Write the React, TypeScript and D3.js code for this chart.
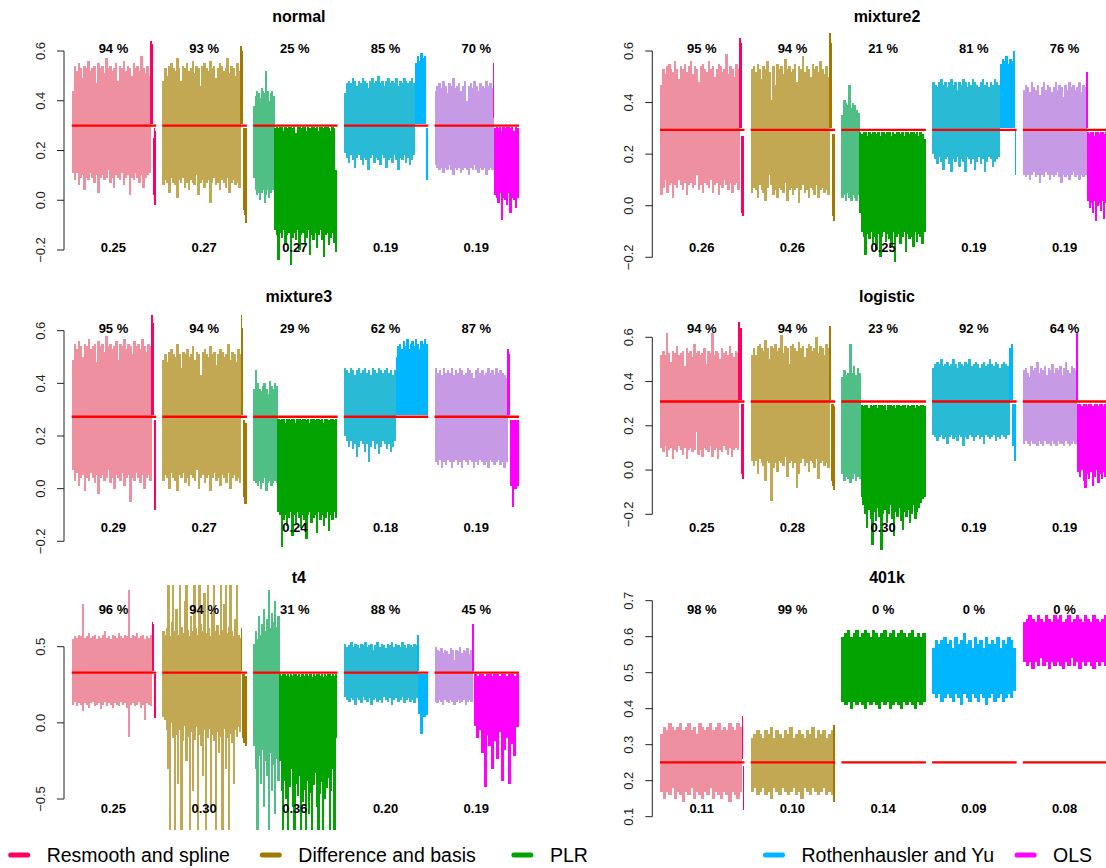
import React from "react";
import * as d3 from "d3";

// ---------- data ----------
const methods = ["Resmooth and spline", "Difference and basis", "PLR", "Rothenhausler and Yu", "OLS"];
const coverColors = ["#EE909F", "#C2A852", "#50BF86", "#29BAD6", "#C69AE4"];
const missColors = ["#FF0062", "#A27800", "#00A300", "#00B7FF", "#FF00FF"];

const panelNames = ["normal", "mixture2", "mixture3", "logistic", "t4", "401k"];
const truthValues = [0.3, 0.294, 0.273, 0.31, 0.33, 0.251];
const coverageLabels = [
  [94, 93, 25, 85, 70],
  [95, 94, 21, 81, 76],
  [95, 94, 29, 62, 87],
  [94, 94, 23, 92, 64],
  [96, 94, 31, 88, 45],
  [98, 99, 0, 0, 0],
];
const widthLabels = [
  ["0.25", "0.27", "0.27", "0.19", "0.19"],
  ["0.26", "0.26", "0.25", "0.19", "0.19"],
  ["0.29", "0.27", "0.24", "0.18", "0.19"],
  ["0.25", "0.28", "0.30", "0.19", "0.19"],
  ["0.25", "0.30", "0.36", "0.20", "0.19"],
  ["0.11", "0.10", "0.14", "0.09", "0.08"],
];
const yTickValues = [
  [-0.2, 0, 0.2, 0.4, 0.6],
  [-0.2, 0, 0.2, 0.4, 0.6],
  [-0.2, 0, 0.2, 0.4, 0.6],
  [-0.2, 0, 0.2, 0.4, 0.6],
  [-0.5, 0, 0.5],
  [0.1, 0.2, 0.3, 0.4, 0.5, 0.6, 0.7],
];

// shares (%) of each method's intervals: [covering, miss above, miss below]
// envelopes per method: [covering, above, below] -> upper / lower limits
const normalShares = [[94, 3, 3], [93, 3, 4], [25, 0, 75], [85, 13, 2], [70, 1, 29]];
const normalHi = [
  [[0.44,0.54,0.52,0.55,0.53,0.49,0.54,0.53,0.56,0.52,0.53,0.54,0.47,0.55,0.53,0.54,0.51,0.57,0.53,0.54,0.52,0.53,0.55,0.48,0.54,0.53,0.56,0.52,0.54,0.53,0.50,0.55,0.53,0.54,0.52,0.58,0.53,0.51,0.54,0.50],[0.64,0.62,0.63],[0.25,0.29,0.28]],
  [[0.48,0.53,0.50,0.54,0.55,0.53,0.52,0.57,0.53,0.48,0.54,0.53,0.55,0.52,0.53,0.56,0.51,0.54,0.53,0.46,0.54,0.55,0.53,0.52,0.56,0.53,0.54,0.49,0.53,0.55,0.54,0.52,0.53,0.57,0.51,0.54,0.53,0.50,0.55,0.52],[0.62,0.60],[0.29,0.29,0.28,0.29]],
  [[0.38,0.42,0.44,0.43,0.41,0.45,0.44,0.43,0.52,0.44,0.40,0.43,0.44,0.42],[],[0.29,0.295,0.29,0.295,0.295,0.28,0.295,0.29,0.295,0.295,0.29,0.295,0.27,0.295,0.295,0.29,0.295,0.295,0.28,0.295,0.29,0.295,0.295,0.29,0.295,0.28,0.295,0.295,0.29,0.295,0.295,0.29,0.28,0.295,0.29,0.12]],
  [[0.43,0.47,0.48,0.47,0.49,0.48,0.46,0.48,0.47,0.49,0.48,0.47,0.45,0.48,0.49,0.47,0.48,0.50,0.47,0.48,0.46,0.48,0.49,0.47,0.48,0.47,0.49,0.46,0.48,0.47,0.49,0.48,0.47,0.48,0.49,0.47],[0.55,0.58,0.56,0.59,0.57,0.58],[0.29]],
  [[0.44,0.46,0.47,0.45,0.48,0.46,0.43,0.47,0.46,0.49,0.45,0.46,0.47,0.44,0.46,0.48,0.40,0.46,0.47,0.45,0.48,0.46,0.44,0.47,0.46,0.45,0.48,0.46,0.47,0.45],[0.55],[0.29,0.295,0.29,0.295,0.28,0.295,0.29,0.295,0.295,0.29,0.295,0.28,0.295,0.29]],
];
const normalLo = [
  [[0.11,0.08,0.11,0.06,0.09,0.10,0.04,0.09,0.08,0.11,0.09,0.07,0.10,0.03,0.09,0.10,0.08,0.09,0.12,0.07,0.09,0.05,0.10,0.09,0.08,0.11,0.06,0.09,0.10,0.02,0.09,0.08,0.11,0.09,0.07,0.10,0.05,0.09,0.10,0.11],[0.305,0.305,0.305],[0.02,0.00,-0.02]],
  [[0.06,0.08,0.07,0.03,0.09,0.07,0.06,0.01,0.08,0.07,0.09,0.05,0.07,0.04,0.08,0.07,0.06,0.10,0.02,0.07,0.08,0.05,0.07,0.08,-0.01,0.07,0.09,0.06,0.07,0.04,0.08,0.07,0.05,0.09,0.03,0.07,0.08,0.06,0.07,0.05],[0.305,0.305],[0.0,-0.04,-0.06,-0.09]],
  [[0.09,0.04,0.02,0.03,0.0,0.03,0.04,-0.01,0.02,0.04,0.01,0.03,0.05,0.04],[],[-0.12,-0.14,-0.24,-0.13,-0.15,-0.12,-0.18,-0.14,-0.13,-0.26,-0.15,-0.13,-0.16,-0.12,-0.20,-0.14,-0.13,-0.17,-0.15,-0.12,-0.22,-0.14,-0.16,-0.13,-0.19,-0.14,-0.12,-0.16,-0.23,-0.14,-0.13,-0.18,-0.15,-0.13,-0.17,-0.21]],
  [[0.19,0.17,0.15,0.18,0.16,0.13,0.17,0.18,0.16,0.14,0.17,0.16,0.12,0.17,0.18,0.15,0.17,0.16,0.14,0.18,0.17,0.13,0.16,0.17,0.15,0.18,0.16,0.12,0.17,0.16,0.18,0.15,0.17,0.14,0.16,0.18],[0.305,0.305,0.305,0.305,0.305,0.305],[0.08]],
  [[0.14,0.13,0.12,0.13,0.11,0.13,0.12,0.14,0.12,0.10,0.13,0.12,0.13,0.11,0.12,0.13,0.12,0.10,0.13,0.12,0.14,0.12,0.11,0.13,0.12,0.13,0.10,0.12,0.13,0.12],[0.33],[0.02,0.01,-0.01,0.03,-0.08,0.01,0.0,-0.02,0.03,-0.05,0.01,0.0,-0.03,0.01]],
];

const mixture2Shares = [[95, 2, 3], [94, 3, 3], [21, 0, 79], [81, 18, 1], [76, 1, 23]];
const mixture2Hi = [
  [[0.47,0.53,0.51,0.54,0.55,0.53,0.52,0.56,0.53,0.49,0.54,0.53,0.55,0.52,0.54,0.56,0.51,0.54,0.53,0.48,0.54,0.55,0.53,0.52,0.56,0.53,0.54,0.50,0.53,0.55,0.54,0.52,0.53,0.59,0.51,0.54,0.53,0.50,0.55,0.53],[0.65,0.63],[0.27,0.27]],
  [[0.53,0.54,0.52,0.55,0.53,0.49,0.54,0.53,0.56,0.52,0.41,0.54,0.47,0.55,0.53,0.54,0.51,0.57,0.53,0.54,0.52,0.53,0.55,0.48,0.54,0.53,0.58,0.52,0.54,0.53,0.50,0.55,0.53,0.54,0.52,0.56,0.53,0.51,0.54,0.50],[0.67,0.63],[0.28,0.28]],
  [[0.35,0.41,0.40,0.39,0.47,0.38,0.40,0.39,0.37,0.36],[],[0.285,0.28,0.285,0.285,0.27,0.285,0.28,0.285,0.285,0.28,0.285,0.27,0.285,0.285,0.28,0.285,0.285,0.27,0.285,0.28,0.285,0.285,0.28,0.285,0.27,0.285,0.285,0.28,0.285,0.285,0.28,0.285,0.27,0.285,0.28,0.26]],
  [[0.48,0.47,0.46,0.48,0.49,0.47,0.48,0.46,0.48,0.49,0.47,0.48,0.45,0.48,0.47,0.49,0.48,0.46,0.48,0.47,0.49,0.48,0.47,0.46,0.48,0.49,0.47,0.48,0.46,0.48,0.47,0.49,0.48,0.47],[0.55,0.57,0.56,0.58,0.55,0.57,0.56,0.60],[0.29]],
  [[0.45,0.47,0.46,0.44,0.48,0.46,0.45,0.47,0.43,0.46,0.48,0.45,0.47,0.46,0.44,0.46,0.48,0.45,0.47,0.46,0.42,0.47,0.45,0.48,0.46,0.47,0.45,0.46,0.48,0.44,0.47,0.46],[0.52],[0.285,0.28,0.285,0.285,0.27,0.285,0.285,0.28,0.285,0.285,0.28,0.285]],
];
const mixture2Lo = [
  [[0.04,0.07,0.10,0.05,0.08,0.09,0.03,0.08,0.07,0.10,0.08,0.06,0.09,0.04,0.08,0.09,0.07,0.08,0.12,0.06,0.08,0.05,0.09,0.08,0.07,0.10,0.05,0.08,0.09,0.04,0.08,0.07,0.10,0.08,0.06,0.09,0.05,0.08,0.09,0.06],[0.30,0.30],[-0.03,-0.04]],
  [[0.05,0.07,0.06,0.03,0.08,0.06,0.05,0.02,0.07,0.12,0.08,0.04,0.06,0.03,0.07,0.06,0.05,0.09,0.02,0.06,0.07,0.04,0.06,0.07,0.01,0.06,0.08,0.05,0.06,0.03,0.07,0.06,0.04,0.08,0.03,0.06,0.07,0.05,0.06,0.04],[0.30,0.30],[-0.04,-0.06]],
  [[0.03,0.04,0.02,0.05,0.03,0.02,0.04,0.03,0.02,0.04],[],[-0.03,-0.10,-0.12,-0.19,-0.11,-0.13,-0.10,-0.15,-0.12,-0.17,-0.11,-0.20,-0.12,-0.10,-0.14,-0.11,-0.13,-0.16,-0.10,-0.22,-0.12,-0.11,-0.15,-0.12,-0.10,-0.18,-0.11,-0.13,-0.12,-0.16,-0.10,-0.14,-0.11,-0.12,-0.15,-0.10]],
  [[0.20,0.18,0.16,0.19,0.17,0.14,0.18,0.19,0.16,0.13,0.18,0.17,0.19,0.15,0.18,0.17,0.13,0.19,0.18,0.16,0.18,0.14,0.17,0.19,0.16,0.18,0.13,0.17,0.19,0.18,0.15,0.17,0.18,0.19],[0.30,0.30,0.30,0.30,0.30,0.30,0.30,0.30],[0.12]],
  [[0.12,0.11,0.12,0.10,0.12,0.13,0.11,0.12,0.09,0.12,0.11,0.13,0.12,0.10,0.12,0.11,0.12,0.13,0.11,0.09,0.12,0.11,0.12,0.10,0.12,0.13,0.11,0.12,0.10,0.12,0.11,0.12],[0.30],[0.02,-0.01,0.01,-0.03,0.02,-0.06,0.0,0.01,-0.02,0.02,-0.05,0.01]],
];

const mixture3Shares = [[95, 3, 2], [94, 2, 4], [29, 0, 71], [62, 38, 0], [87, 3, 10]];
const mixture3Hi = [
  [[0.49,0.55,0.53,0.56,0.54,0.50,0.55,0.54,0.57,0.53,0.54,0.55,0.48,0.56,0.54,0.55,0.52,0.58,0.54,0.55,0.53,0.54,0.56,0.49,0.55,0.54,0.57,0.53,0.55,0.54,0.51,0.56,0.54,0.55,0.53,0.57,0.54,0.52,0.55,0.54],[0.66,0.63],[0.26,0.26]],
  [[0.49,0.51,0.48,0.52,0.53,0.51,0.50,0.55,0.51,0.46,0.52,0.51,0.53,0.50,0.51,0.54,0.49,0.52,0.51,0.43,0.52,0.53,0.51,0.50,0.54,0.51,0.52,0.47,0.51,0.53,0.52,0.50,0.51,0.55,0.49,0.52,0.51,0.48,0.53,0.51],[0.66,0.61],[0.26,0.26,0.25]],
  [[0.38,0.45,0.40,0.38,0.37,0.39,0.40,0.38,0.36,0.41,0.39,0.38,0.40,0.39],[],[0.265,0.26,0.265,0.265,0.25,0.265,0.265,0.26,0.265,0.265,0.25,0.265,0.265,0.26,0.265,0.265,0.26,0.265,0.25,0.265,0.265,0.26,0.265,0.265,0.26,0.265,0.25,0.265,0.265,0.26,0.265,0.265,0.26,0.265]],
  [[0.46,0.45,0.44,0.46,0.45,0.43,0.45,0.46,0.44,0.45,0.46,0.44,0.45,0.43,0.46,0.45,0.44,0.46,0.45,0.44,0.45,0.46,0.44,0.45,0.43,0.45],[0.50,0.54,0.55,0.53,0.56,0.54,0.57,0.53,0.55,0.56,0.54,0.57,0.55,0.53,0.56,0.55,0.57,0.55],[]],
  [[0.46,0.44,0.45,0.43,0.46,0.44,0.45,0.44,0.46,0.43,0.45,0.44,0.46,0.45,0.43,0.44,0.46,0.45,0.44,0.42,0.45,0.46,0.44,0.45,0.43,0.44,0.46,0.44,0.45,0.43,0.46,0.44,0.45,0.44,0.43,0.42],[0.53,0.51],[0.26,0.26,0.26,0.26]],
];
const mixture3Lo = [
  [[0.07,0.03,0.06,0.01,0.04,0.05,-0.01,0.04,0.03,0.06,0.04,0.02,0.05,-0.02,0.04,0.05,0.03,0.04,0.07,0.02,0.04,0.00,0.05,0.04,0.03,0.06,0.01,0.04,0.05,-0.05,0.04,0.03,0.06,0.04,0.02,0.05,0.00,0.04,0.05,0.03],[0.278,0.278],[-0.05,-0.08]],
  [[0.03,0.05,0.04,0.00,0.06,0.04,0.03,-0.01,0.05,0.04,0.06,0.02,0.04,0.01,0.05,0.04,0.03,0.07,0.00,0.04,0.05,0.02,0.04,0.05,-0.01,0.04,0.06,0.03,0.04,0.01,0.05,0.04,0.02,0.06,0.00,0.04,0.05,0.03,0.04,0.02],[0.278,0.278],[-0.03,-0.06,-0.06]],
  [[0.03,0.02,0.01,0.03,0.00,0.02,0.04,-0.01,0.02,0.03,0.01,0.02,0.03,0.02],[],[-0.09,-0.10,-0.22,-0.12,-0.10,-0.14,-0.11,-0.09,-0.18,-0.10,-0.13,-0.09,-0.11,-0.15,-0.10,-0.12,-0.19,-0.10,-0.09,-0.13,-0.11,-0.10,-0.17,-0.09,-0.12,-0.10,-0.14,-0.11,-0.09,-0.16,-0.10,-0.12,-0.09,-0.11]],
  [[0.20,0.18,0.16,0.18,0.15,0.17,0.12,0.16,0.18,0.17,0.14,0.17,0.10,0.16,0.18,0.15,0.17,0.13,0.16,0.18,0.17,0.15,0.17,0.14,0.16,0.18],[0.278,0.278,0.278,0.278,0.278,0.278,0.278,0.278,0.278,0.278,0.278,0.278,0.278,0.278,0.278,0.278,0.278,0.278],[]],
  [[0.10,0.09,0.11,0.08,0.10,0.09,0.11,0.10,0.08,0.10,0.11,0.09,0.10,0.08,0.11,0.10,0.09,0.11,0.10,0.08,0.10,0.09,0.11,0.10,0.09,0.10,0.08,0.11,0.10,0.09,0.10,0.11,0.09,0.10,0.08,0.10],[0.278,0.278],[0.01,-0.07,0.0,0.01]],
];

const logisticShares = [[94, 3, 3], [94, 2, 4], [23, 0, 77], [92, 4, 4], [64, 1, 35]];
const logisticHi = [
  [[0.52,0.54,0.52,0.62,0.53,0.49,0.54,0.53,0.56,0.52,0.53,0.54,0.47,0.55,0.53,0.54,0.51,0.57,0.53,0.54,0.52,0.53,0.55,0.48,0.54,0.53,0.62,0.52,0.54,0.53,0.50,0.55,0.53,0.54,0.52,0.56,0.53,0.51,0.54,0.53],[0.67,0.64],[0.30,0.30]],
  [[0.52,0.55,0.52,0.56,0.57,0.55,0.54,0.59,0.55,0.50,0.56,0.55,0.57,0.54,0.55,0.61,0.53,0.56,0.55,0.48,0.56,0.57,0.55,0.54,0.58,0.55,0.56,0.51,0.55,0.57,0.56,0.54,0.55,0.60,0.53,0.56,0.55,0.52,0.57,0.55],[0.65,0.62],[0.30,0.30,0.29]],
  [[0.42,0.45,0.43,0.44,0.57,0.44,0.47,0.43,0.46,0.44],[],[0.295,0.29,0.295,0.295,0.28,0.295,0.29,0.295,0.295,0.28,0.295,0.295,0.29,0.295,0.27,0.295,0.295,0.29,0.295,0.28,0.295,0.295,0.29,0.295,0.295,0.28,0.295,0.29,0.295,0.295,0.28,0.295,0.29,0.295,0.295,0.29]],
  [[0.46,0.48,0.49,0.48,0.50,0.47,0.48,0.49,0.47,0.48,0.50,0.48,0.46,0.49,0.48,0.47,0.49,0.48,0.50,0.47,0.48,0.49,0.48,0.46,0.48,0.49,0.47,0.48,0.50,0.48,0.47,0.49,0.48,0.46,0.48,0.49,0.48,0.47],[0.55,0.57],[0.30,0.30]],
  [[0.45,0.46,0.44,0.42,0.47,0.45,0.46,0.49,0.44,0.46,0.45,0.47,0.43,0.46,0.45,0.48,0.44,0.46,0.45,0.47,0.43,0.46,0.49,0.45,0.44,0.47,0.46,0.45],[0.62],[0.30,0.30,0.29,0.30,0.30,0.29,0.30,0.30,0.29,0.30,0.30,0.29,0.30,0.30,0.29,0.30]],
];
const logisticLo = [
  [[0.10,0.08,0.11,0.06,0.09,0.10,0.05,0.09,0.08,0.11,0.09,0.07,0.10,0.05,0.09,0.10,0.08,0.09,0.17,0.07,0.09,0.06,0.10,0.09,0.08,0.11,0.06,0.09,0.10,0.05,0.09,0.08,0.11,0.09,0.07,0.10,0.06,0.09,0.10,0.09],[0.315,0.315],[-0.02,-0.04]],
  [[0.04,0.02,0.04,-0.02,0.05,0.03,0.02,-0.05,0.04,0.03,-0.14,0.01,0.03,-0.01,0.04,0.03,0.02,0.06,-0.03,0.03,0.04,0.01,0.03,-0.08,-0.02,0.03,0.05,0.02,0.03,-0.01,0.04,0.03,0.01,0.05,-0.04,0.03,0.04,0.02,0.03,0.01],[0.315,0.315],[-0.05,-0.07,-0.09]],
  [[-0.02,-0.05,-0.03,-0.04,-0.06,-0.04,-0.02,-0.05,-0.03,-0.04],[],[-0.12,-0.16,-0.20,-0.26,-0.18,-0.22,-0.34,-0.19,-0.23,-0.17,-0.21,-0.36,-0.20,-0.18,-0.24,-0.20,-0.16,-0.22,-0.30,-0.19,-0.21,-0.17,-0.23,-0.27,-0.19,-0.21,-0.18,-0.24,-0.20,-0.16,-0.22,-0.19,-0.17,-0.15,-0.13,-0.12]],
  [[0.16,0.15,0.13,0.15,0.16,0.14,0.15,0.12,0.15,0.16,0.14,0.15,0.13,0.16,0.15,0.11,0.15,0.14,0.16,0.15,0.13,0.15,0.16,0.14,0.15,0.12,0.16,0.15,0.14,0.15,0.16,0.13,0.15,0.14,0.16,0.15,0.14,0.16],[0.315,0.315],[0.11,0.04]],
  [[0.12,0.13,0.12,0.11,0.13,0.12,0.12,0.11,0.13,0.12,0.11,0.13,0.12,0.12,0.11,0.13,0.12,0.11,0.13,0.12,0.12,0.11,0.13,0.12,0.11,0.12,0.13,0.12],[0.315],[-0.01,-0.03,0.0,-0.05,-0.08,-0.02,-0.04,-0.01,-0.07,-0.03,0.0,-0.06,-0.02,-0.04,-0.01,-0.03]],
];

const t4Shares = [[96, 2, 2], [94, 1, 5], [31, 0, 69], [88, 1, 11], [45, 2, 53]];
const t4Hi = [
  [[0.55,0.57,0.56,0.58,0.57,0.78,0.56,0.57,0.59,0.56,0.57,0.58,0.55,0.57,0.56,0.58,0.60,0.56,0.57,0.55,0.58,0.57,0.56,0.59,0.57,0.56,0.58,0.57,0.87,0.56,0.58,0.57,0.59,0.56,0.57,0.58,0.55,0.57,0.56,0.58],[0.66,0.65],[0.32,0.32]],
  [[0.60,0.58,0.62,1.0,0.57,0.66,1.0,0.60,0.75,0.58,1.0,0.63,0.59,0.80,1.0,0.61,0.57,0.70,0.60,1.0,0.62,0.58,1.0,0.65,0.60,0.85,0.59,1.0,0.62,0.57,0.72,1.0,0.60,0.64,0.58,1.0,0.61,0.78,1.0,0.59,0.63,1.0,0.60,0.57,0.68,1.0,0.58,0.56],[0.62],[0.32,0.32,0.31]],
  [[0.52,0.60,0.55,0.70,0.58,0.65,0.75,0.60,0.68,0.87,0.62,0.72,0.66,0.80,0.63,0.70],[],[0.32,0.31,0.32,0.32,0.31,0.32,0.30,0.32,0.31,0.32,0.32,0.31,0.32,0.30,0.32,0.31,0.32,0.32,0.31,0.32,0.30,0.32,0.31,0.32,0.32,0.31,0.32,0.30,0.32,0.31,0.32,0.32,0.31,0.32,0.31,0.32]],
  [[0.52,0.50,0.51,0.53,0.50,0.52,0.51,0.49,0.52,0.51,0.53,0.50,0.51,0.52,0.48,0.51,0.53,0.50,0.52,0.51,0.49,0.52,0.51,0.53,0.50,0.52,0.51,0.50,0.53,0.51,0.49,0.52,0.51,0.50,0.52,0.51],[0.58],[0.32,0.32,0.32,0.32]],
  [[0.50,0.48,0.47,0.49,0.46,0.48,0.47,0.45,0.49,0.48,0.41,0.48,0.47,0.50,0.46,0.48,0.47,0.49,0.45,0.48],[0.65],[0.32,0.31,0.32,0.32,0.31,0.32,0.32,0.31,0.32,0.32,0.31,0.32,0.32,0.31,0.32,0.32,0.31,0.32]],
];
const t4Lo = [
  [[0.12,0.14,0.11,0.13,0.12,0.08,0.13,0.12,0.10,0.13,0.14,0.11,0.12,0.13,0.09,0.12,0.14,0.11,0.13,0.12,0.10,0.13,0.12,0.11,0.14,0.12,0.13,0.10,-0.09,0.12,0.13,0.11,0.12,0.14,0.10,0.12,0.02,0.13,0.12,0.11],[0.34,0.34],[0.05,0.03]],
  [[0.04,0.02,-0.05,-0.30,-0.8,0.00,-0.10,-0.8,-0.08,-0.40,-0.05,-0.8,-0.12,-0.02,-0.25,-0.09,-0.8,-0.06,-0.45,-0.11,-0.03,-0.8,-0.08,-0.15,-0.35,-0.05,-0.8,-0.10,-0.04,-0.55,-0.08,-0.12,-0.8,-0.06,-0.20,-0.09,-0.8,-0.04,-0.30,-0.10,-0.8,-0.07,-0.13,-0.40,-0.05,-0.09,-0.03,-0.06],[0.34],[-0.10,-0.13,-0.15]],
  [[-0.15,-0.30,-0.8,-0.22,-0.40,-0.18,-0.55,-0.25,-0.35,-0.8,-0.20,-0.45,-0.28,-0.60,-0.24,-0.38],[],[-0.25,-0.45,-0.8,-0.38,-0.50,-0.8,-0.42,-0.30,-0.55,-0.8,-0.40,-0.48,-0.35,-0.8,-0.52,-0.44,-0.8,-0.38,-0.60,-0.46,-0.8,-0.41,-0.33,-0.55,-0.8,-0.47,-0.39,-0.8,-0.50,-0.43,-0.36,-0.8,-0.45,-0.30,-0.8,-0.10]],
  [[0.17,0.15,0.14,0.16,0.15,0.12,0.16,0.15,0.13,0.17,0.15,0.14,0.16,0.12,0.15,0.16,0.14,0.15,0.13,0.17,0.15,0.14,0.16,0.12,0.15,0.16,0.14,0.15,0.17,0.13,0.15,0.16,0.14,0.15,0.13,0.16],[0.34],[0.06,-0.07,0.04,0.05]],
  [[0.14,0.13,0.15,0.14,0.12,0.15,0.14,0.13,0.15,0.14,0.12,0.14,0.15,0.13,0.14,0.15,0.12,0.14,0.15,0.14],[0.34],[-0.02,-0.10,-0.05,-0.20,-0.42,-0.08,-0.15,-0.30,-0.12,-0.24,-0.06,-0.38,-0.18,-0.10,-0.40,-0.14,-0.22,-0.03]],
];

const k401Shares = [[98, 1, 1], [99, 0, 1], [0, 100, 0], [0, 100, 0], [0, 100, 0]];
const k401Hi = [
  [[0.33,0.35,0.34,0.36,0.35,0.34,0.35,0.36,0.34,0.35,0.36,0.34,0.35,0.33,0.36,0.35,0.34,0.35,0.36,0.34,0.35,0.36,0.34,0.35,0.34,0.36,0.35,0.34,0.36,0.35],[0.38],[0.24]],
  [[0.32,0.33,0.34,0.33,0.32,0.34,0.33,0.35,0.32,0.34,0.33,0.32,0.34,0.33,0.35,0.32,0.33,0.34,0.33,0.32,0.34,0.33,0.35,0.32,0.34,0.33,0.34,0.32,0.33,0.34],[],[0.355]],
  [[],[0.60,0.61,0.62,0.60,0.61,0.62,0.60,0.61,0.62,0.61,0.60,0.62,0.61,0.60,0.61,0.62,0.60,0.61,0.62,0.60,0.61,0.62,0.61,0.60,0.61,0.62,0.60,0.61,0.60,0.61],[]],
  [[],[0.57,0.59,0.58,0.59,0.60,0.58,0.59,0.57,0.60,0.58,0.59,0.61,0.58,0.59,0.57,0.60,0.58,0.59,0.57,0.60,0.58,0.59,0.58,0.60,0.57,0.59,0.58,0.60,0.59,0.57],[]],
  [[],[0.64,0.65,0.66,0.65,0.64,0.66,0.65,0.64,0.66,0.65,0.64,0.66,0.65,0.66,0.64,0.65,0.66,0.64,0.65,0.66,0.65,0.64,0.66,0.65,0.64,0.66,0.65,0.64,0.65,0.66],[]],
];
const k401Lo = [
  [[0.17,0.15,0.17,0.16,0.18,0.15,0.17,0.16,0.14,0.17,0.16,0.18,0.15,0.17,0.16,0.15,0.17,0.16,0.18,0.15,0.17,0.16,0.15,0.17,0.16,0.14,0.17,0.16,0.15,0.17],[0.26],[0.12]],
  [[0.17,0.18,0.16,0.17,0.18,0.16,0.17,0.15,0.18,0.17,0.16,0.18,0.17,0.16,0.17,0.18,0.16,0.17,0.15,0.18,0.17,0.16,0.18,0.17,0.16,0.17,0.18,0.16,0.17,0.16],[],[0.14]],
  [[],[0.42,0.41,0.42,0.40,0.42,0.41,0.42,0.41,0.40,0.42,0.41,0.42,0.41,0.40,0.42,0.41,0.42,0.40,0.41,0.42,0.41,0.40,0.42,0.41,0.42,0.41,0.40,0.42,0.41,0.42],[]],
  [[],[0.44,0.43,0.44,0.42,0.43,0.44,0.43,0.42,0.44,0.43,0.41,0.44,0.43,0.42,0.44,0.43,0.42,0.44,0.43,0.41,0.43,0.44,0.42,0.43,0.44,0.42,0.43,0.44,0.43,0.45],[]],
  [[],[0.53,0.52,0.53,0.51,0.53,0.52,0.54,0.52,0.53,0.51,0.53,0.52,0.53,0.52,0.51,0.53,0.52,0.54,0.52,0.53,0.51,0.53,0.52,0.53,0.52,0.51,0.53,0.52,0.53,0.52],[]],
];

const panelShares = [normalShares, mixture2Shares, mixture3Shares, logisticShares, t4Shares, k401Shares];
const panelHi = [normalHi, mixture2Hi, mixture3Hi, logisticHi, t4Hi, k401Hi];
const panelLo = [normalLo, mixture2Lo, mixture3Lo, logisticLo, t4Lo, k401Lo];

// ---------- layout ----------
const W = 1106;
const H = 868;
const colX0 = [71.7, 660];
const colAxisX = [64, 652.3];
const colTitleX = [298.8, 887];
const rowOffset = [0, 280, 561];
const rowClip = [[28, 279], [305, 561], [585, 830]];
const panelYPix = [[250, 51], [257.3, 51], [541.3, 330.7], [514.3, 337.3], [799, 646.7], [816.7, 600.7]];
const groupStep = 90.7;
const groupWidth = 83.5;
const FONT = "'Liberation Sans', Arial, Helvetica, sans-serif";

function Panel({ p }: { p: number }) {
  const col = p % 2;
  const row = Math.floor(p / 2);
  const ticks = yTickValues[p];
  const y = d3.scaleLinear().domain([ticks[0], ticks[ticks.length - 1]]).range(panelYPix[p]);
  const x = d3
    .scaleBand<number>()
    .domain([0, 1, 2, 3, 4])
    .range([colX0[col], colX0[col] + 4 * groupStep + groupWidth])
    .paddingInner((groupStep - groupWidth) / groupStep)
    .paddingOuter(0);
  const bw = x.bandwidth();
  const off = rowOffset[row];
  const axisX = colAxisX[col];
  const fmt = d3.format(".1f");
  const clipId = `clip${p}`;
  const [c0, c1] = rowClip[row];

  const rects: React.ReactNode[] = [];
  for (let g = 0; g < 5; g++) {
    const bx = x(g) as number;
    let cum = 0;
    for (let s = 0; s < 3; s++) {
      const share = panelShares[p][g][s] / 100;
      const hi = panelHi[p][g][s];
      const lo = panelLo[p][g][s];
      const n = Math.min(hi.length, lo.length);
      const sx = d3.scaleLinear().domain([0, n]).range([bx + bw * cum, bx + bw * (cum + share)]);
      const color = s === 0 ? coverColors[g] : missColors[g];
      for (let i = 0; i < n; i++) {
        const yt = y(Math.max(hi[i], lo[i]));
        const yb = y(Math.min(hi[i], lo[i]));
        const x1 = sx(i);
        const x2 = sx(i + 1);
        rects.push(
          <rect
            key={`${g}-${s}-${i}`}
            x={x1}
            y={yt}
            width={Math.max(1, x2 - x1 + 0.6)}
            height={yb - yt}
            fill={color}
            shapeRendering="crispEdges"
          />
        );
      }
      cum += share;
    }
  }

  return (
    <g>
      <defs>
        <clipPath id={clipId}>
          <rect x={colX0[col] - 5} y={c0} width={470} height={c1 - c0} />
        </clipPath>
      </defs>
      <text x={colTitleX[col]} y={21.7 + off} textAnchor="middle" fontFamily={FONT} fontWeight="bold" fontSize={16} fill="#000">
        {panelNames[p]}
      </text>
      <g clipPath={`url(#${clipId})`}>{rects}</g>
      {[0, 1, 2, 3, 4].map((g) => {
        const bx = x(g) as number;
        return (
          <line key={`t${g}`} x1={bx} x2={bx + bw + 1} y1={y(truthValues[p])} y2={y(truthValues[p])} stroke="#FF0000" strokeWidth={2.4} />
        );
      })}
      {[0, 1, 2, 3, 4].map((g) => {
        const cx = (x(g) as number) + bw / 2;
        return (
          <g key={`l${g}`} fontFamily={FONT} fontWeight="bold" fontSize={13} fill="#000" textAnchor="middle">
            <text x={cx} y={52.7 + off}>{`${coverageLabels[p][g]} %`}</text>
            <text x={cx} y={251.7 + off}>{widthLabels[p][g]}</text>
          </g>
        );
      })}
      <line x1={axisX} x2={axisX} y1={y(ticks[0])} y2={y(ticks[ticks.length - 1])} stroke="#222" strokeWidth={1} />
      {ticks.map((t) => (
        <g key={`y${t}`}>
          <line x1={axisX - 7} x2={axisX} y1={y(t)} y2={y(t)} stroke="#222" strokeWidth={1} />
          <text
            transform={`translate(${axisX - 19},${y(t)}) rotate(-90)`}
            textAnchor="middle"
            fontFamily={FONT}
            fontSize={13}
            fill="#222"
          >
            {fmt(t)}
          </text>
        </g>
      ))}
    </g>
  );
}

export default function App() {
  const legendStart = 46.7;
  const legendStep = 251.6;
  return (
    <svg width={W} height={H} style={{ position: "absolute", left: 0, top: 0, background: "#fff" }}>
      <rect x={0} y={0} width={W} height={H} fill="#fff" />
      {panelNames.map((_, p) => (
        <Panel key={p} p={p} />
      ))}
      {methods.map((m, i) => {
        const tx = legendStart + i * legendStep;
        return (
          <g key={m}>
            <line x1={tx - 36} x2={tx - 19} y1={855} y2={855} stroke={missColors[i]} strokeWidth={5} strokeLinecap="round" />
            <text x={tx} y={861.7} fontFamily={FONT} fontSize={19.5} fill="#000">
              {m}
            </text>
          </g>
        );
      })}
    </svg>
  );
}
